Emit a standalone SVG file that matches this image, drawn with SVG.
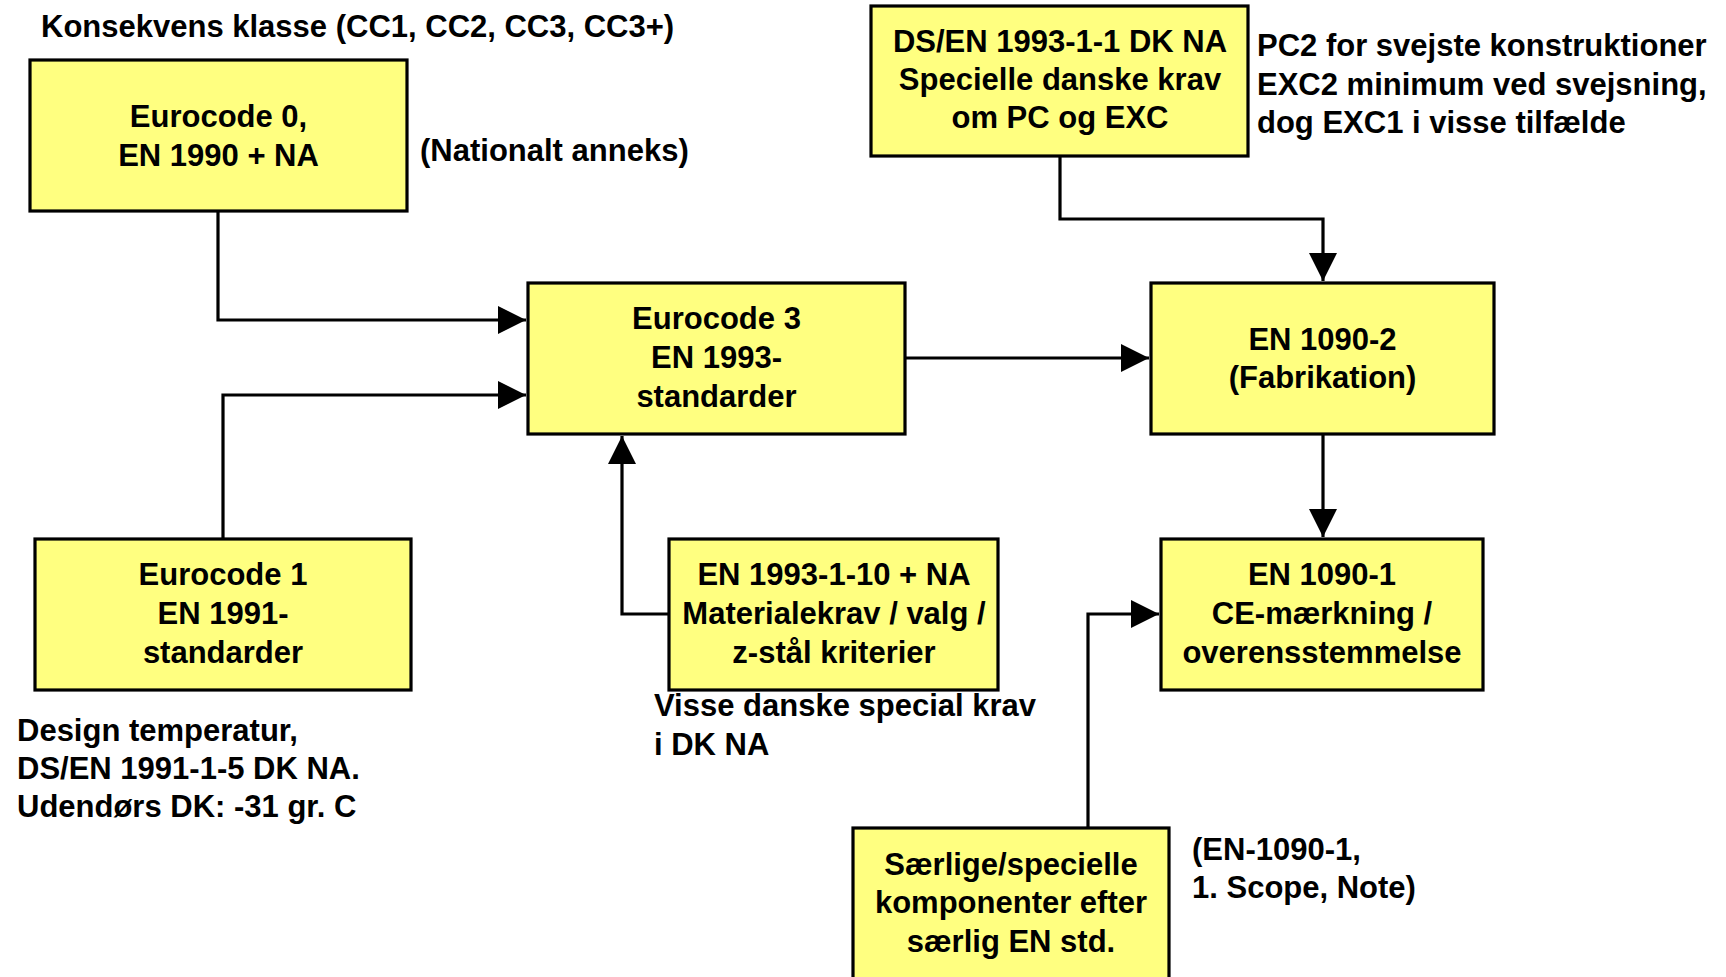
<svg xmlns="http://www.w3.org/2000/svg" width="1726" height="977" viewBox="0 0 1726 977">
<style>
.box{fill:#FFFF80;stroke:#000;stroke-width:3.2}
text{font-family:"Liberation Sans",Arial,sans-serif;font-weight:bold;font-size:31px;fill:#000}
.c{text-anchor:middle}
.conn{fill:none;stroke:#000;stroke-width:3.2}
</style>
<defs>
<marker id="arr" markerUnits="userSpaceOnUse" markerWidth="28" markerHeight="28" refX="28" refY="14" orient="auto" viewBox="0 0 28 28">
<path d="M0,0 L28,14 L0,28 Z" fill="#000"/>
</marker>
</defs>
<rect width="1726" height="977" fill="#fff"/>
<g id="connectors">
<path class="conn" d="M218,211 V320 H526" marker-end="url(#arr)"/>
<path class="conn" d="M223,539 V395 H526" marker-end="url(#arr)"/>
<path class="conn" d="M669,614 H622 V436" marker-end="url(#arr)"/>
<path class="conn" d="M905,358 H1149" marker-end="url(#arr)"/>
<path class="conn" d="M1060,156 V219 H1323 V281" marker-end="url(#arr)"/>
<path class="conn" d="M1323,434 V537" marker-end="url(#arr)"/>
<path class="conn" d="M1088,828 V614 H1159" marker-end="url(#arr)"/>
</g>
<g id="eurocode0">
<rect class="box" x="30" y="60" width="377" height="151"/>
<text class="c" x="218.5" y="127">Eurocode 0,</text>
<text class="c" x="218.5" y="166">EN 1990 + NA</text>
</g>
<g id="eurocode3">
<rect class="box" x="528" y="283" width="377" height="151"/>
<text class="c" x="716.5" y="329">Eurocode 3</text>
<text class="c" x="716.5" y="368">EN 1993-</text>
<text class="c" x="716.5" y="407">standarder</text>
</g>
<g id="eurocode1">
<rect class="box" x="35" y="539" width="376" height="151"/>
<text class="c" x="223" y="585">Eurocode 1</text>
<text class="c" x="223" y="624">EN 1991-</text>
<text class="c" x="223" y="663">standarder</text>
</g>
<g id="en1993-1-10">
<rect class="box" x="669" y="539" width="329" height="151"/>
<text class="c" x="834" y="585">EN 1993-1-10 + NA</text>
<text class="c" x="834" y="624">Materialekrav / valg /</text>
<text class="c" x="834" y="663">z-stål kriterier</text>
</g>
<g id="dsen1993-1-1">
<rect class="box" x="871" y="6" width="377" height="150"/>
<text class="c" x="1060" y="52">DS/EN 1993-1-1 DK NA</text>
<text class="c" x="1060" y="90">Specielle danske krav</text>
<text class="c" x="1060" y="128">om PC og EXC</text>
</g>
<g id="en1090-2">
<rect class="box" x="1151" y="283" width="343" height="151"/>
<text class="c" x="1322.5" y="350">EN 1090-2</text>
<text class="c" x="1322.5" y="388">(Fabrikation)</text>
</g>
<g id="en1090-1">
<rect class="box" x="1161" y="539" width="322" height="151"/>
<text class="c" x="1322" y="585">EN 1090-1</text>
<text class="c" x="1322" y="624">CE-mærkning /</text>
<text class="c" x="1322" y="663">overensstemmelse</text>
</g>
<g id="saerlige">
<rect class="box" x="853" y="828" width="316" height="165"/>
<text class="c" x="1011" y="875">Særlige/specielle</text>
<text class="c" x="1011" y="913">komponenter efter</text>
<text class="c" x="1011" y="952">særlig EN std.</text>
</g>
<g id="annotations">
<text x="41" y="37">Konsekvens klasse (CC1, CC2, CC3, CC3+)</text>
<text x="420" y="161">(Nationalt anneks)</text>
<text x="1257" y="56">PC2 for svejste konstruktioner</text>
<text x="1257" y="95">EXC2 minimum ved svejsning,</text>
<text x="1257" y="133">dog EXC1 i visse tilfælde</text>
<text x="17" y="741">Design temperatur,</text>
<text x="17" y="779">DS/EN 1991-1-5 DK NA.</text>
<text x="17" y="817">Udendørs DK: -31 gr. C</text>
<text x="654" y="716">Visse danske special krav</text>
<text x="654" y="755">i DK NA</text>
<text x="1192" y="860">(EN-1090-1,</text>
<text x="1192" y="898">1. Scope, Note)</text>
</g>
</svg>
